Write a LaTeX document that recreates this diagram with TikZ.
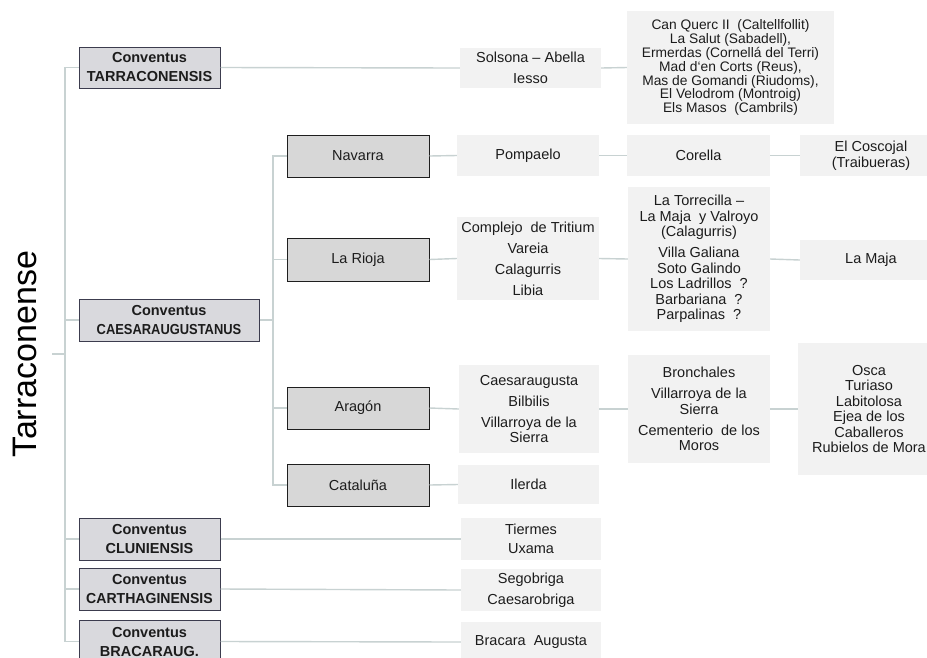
\documentclass[tikz,border=0pt]{standalone}
\usepackage{fontspec}
\setmainfont{Liberation Sans}
\definecolor{conncol}{RGB}{200,210,210}
\definecolor{convfill}{RGB}{217,217,221}
\definecolor{convdraw}{RGB}{60,60,78}
\definecolor{regfill}{RGB}{215,215,215}
\definecolor{regdraw}{RGB}{30,30,30}
\definecolor{leaffill}{RGB}{242,242,242}
\definecolor{txt}{RGB}{28,28,28}
\tikzset{
  conn/.style={draw=conncol, line width=1.4pt},
  convbox/.style={draw=convdraw, fill=convfill, line width=1pt, inner sep=0pt, align=center,
    text=txt, font=\fontsize{14.5}{19}\selectfont\bfseries},
  regbox/.style={draw=regdraw, fill=regfill, line width=1pt, inner sep=0pt, align=center,
    text=txt, font=\fontsize{14.5}{16}\selectfont},
  leafbox/.style={fill=leaffill, draw=none, inner sep=0pt, align=center,
    text=txt, font=\fontsize{14.5}{15.5}\selectfont},
}
\begin{document}
\begin{tikzpicture}[x=1pt,y=-1pt]
\useasboundingbox (0,0) rectangle (927,657);
\clip (0,0) rectangle (927,657);
\fill[white] (0,0) rectangle (927,657);

% title
\node[rotate=90, text=black, font=\fontsize{34}{36}\selectfont, inner sep=0pt] (title) at (25,354) {Tarraconense};
\coordinate (root) at (52,354);
\coordinate (bus1) at (65,354);
\coordinate (bus2) at (273,320);

% conventus
\node[convbox, minimum width=141pt, minimum height=41pt] (cT) at (149.5,67.5) {Conventus\\TARRACONENSIS};
\node[convbox, minimum width=180pt, minimum height=42pt] (cC) at (169,320) {Conventus\\\scalebox{0.89}[1]{CAESARAUGUSTANUS}};
\node[convbox, minimum width=141pt, minimum height=42pt] (cCl) at (149.5,539) {Conventus\\CLUNIENSIS};
\node[convbox, minimum width=141pt, minimum height=42pt] (cCa) at (149.5,589) {Conventus\\\scalebox{0.97}[1]{CARTHAGINENSIS}};
\node[convbox, minimum width=141pt, minimum height=42pt] (cB) at (149.5,641.5) {Conventus\\BRACARAUG.};

% regions
\node[regbox, minimum width=142pt, minimum height=42pt] (nav) at (358,156) {Navarra};
\node[regbox, minimum width=142pt, minimum height=43pt] (rio) at (358,259.5) {La Rioja};
\node[regbox, minimum width=142pt, minimum height=42pt] (ara) at (358,408) {Aragón};
\node[regbox, minimum width=142pt, minimum height=42pt] (cat) at (358,485) {Cataluña};

% third column
\node[leafbox, minimum width=141pt, minimum height=40pt] (sol) at (530.5,68) {Solsona – Abella\\[5pt]Iesso};
\node[leafbox, minimum width=142pt, minimum height=41pt] (pom) at (528,155.5) {Pompaelo};
\node[leafbox, minimum width=142pt, minimum height=83pt] (com) at (528,258.5) {Complejo\ \ de Tritium\\[5.5pt]Vareia\\[5.5pt]Calagurris\\[5.5pt]Libia};
\node[leafbox, minimum width=140pt, minimum height=88pt] (cae) at (529,409) {Caesaraugusta\\[5.5pt]Bilbilis\\[5.5pt]Villarroya de la\\Sierra};
\node[leafbox, minimum width=141pt, minimum height=39pt] (ile) at (528.5,484.5) {Ilerda};
\node[leafbox, minimum width=140pt, minimum height=42pt] (tie) at (531,539) {Tiermes\\[3.5pt]Uxama};
\node[leafbox, minimum width=140pt, minimum height=42pt] (seg) at (531,590) {Segobriga\\[5.5pt]Caesarobriga};
\node[leafbox, minimum width=140pt, minimum height=40pt] (bra) at (531,642) {Bracara\ \ Augusta};

% fourth column
\node[leafbox, minimum width=207pt, minimum height=113pt, font=\fontsize{13.8}{12.2}\selectfont] (can) at (730.5,67.5)
  {Can Querc II\ \ (Caltellfollit)\\La Salut (Sabadell),\\Ermerdas (Cornellá del Terri)\\Mad\ d`en Corts (Reus),\\Mas de Gomandi (Riudoms),\\El Velodrom (Montroig)\\Els Masos\ \ (Cambrils)};
\node[leafbox, minimum width=143pt, minimum height=41pt] (cor) at (698.5,155.5) {Corella};
\node[leafbox, minimum width=142pt, minimum height=144pt] (tor) at (699,259)
  {La Torrecilla –\\La Maja\ \ y Valroyo\\(Calagurris)\\[5.5pt]Villa Galiana\\Soto Galindo\\Los Ladrillos\ \ ?\\Barbariana\ \ ?\\Parpalinas\ \ ?};
\node[leafbox, minimum width=142pt, minimum height=108pt] (bro) at (699,409)
  {Bronchales\\[5.5pt]Villarroya de la\\Sierra\\[5.5pt]Cementerio\ \ de los\\Moros};

% fifth column
\node[leafbox, minimum width=142pt, minimum height=41pt] (cos) at (871,155.5) {El Coscojal\\(Traibueras)};
\node[leafbox, minimum width=142pt, minimum height=40pt] (maj) at (871,260) {La Maja};
\node[leafbox, minimum width=142pt, minimum height=132pt] (osc) at (869,409)
  {Osca\\Turiaso\\Labitolosa\\Ejea de los\\Caballeros\\Rubielos de Mora};

% connectors: root bus
\draw[conn] (root) -- (bus1);
\draw[conn] (bus1) |- (cT.west);
\draw[conn] (bus1) |- (cB.west);
\draw[conn] (cC.west -| bus1) -- (cC.west);
\draw[conn] (cCl.west -| bus1) -- (cCl.west);
\draw[conn] (cCa.west -| bus1) -- (cCa.west);

% CAESARAUGUSTANUS bus
\draw[conn] (cC.east) -- (bus2);
\draw[conn] (bus2) |- (nav.west);
\draw[conn] (bus2) |- (cat.west);
\draw[conn] (rio.west -| bus2) -- (rio.west);
\draw[conn] (ara.west -| bus2) -- (ara.west);

% chains
\draw[conn] (cT.east) -- (sol.west);
\draw[conn] (sol.east) -- (can.west);
\draw[conn] (nav.east) -- (pom.west);
\draw[conn] (pom.east) -- (cor.west);
\draw[conn] (cor.east) -- (cos.west);
\draw[conn] (rio.east) -- (com.west);
\draw[conn] (com.east) -- (tor.west);
\draw[conn] (tor.east) -- (maj.west);
\draw[conn] (ara.east) -- (cae.west);
\draw[conn] (cae.east) -- (bro.west);
\draw[conn] (bro.east) -- (osc.west);
\draw[conn] (cat.east) -- (ile.west);
\draw[conn] (cCl.east) -- (tie.west);
\draw[conn] (cCa.east) -- (seg.west);
\draw[conn] (cB.east) -- (bra.west);
\end{tikzpicture}
\end{document}
